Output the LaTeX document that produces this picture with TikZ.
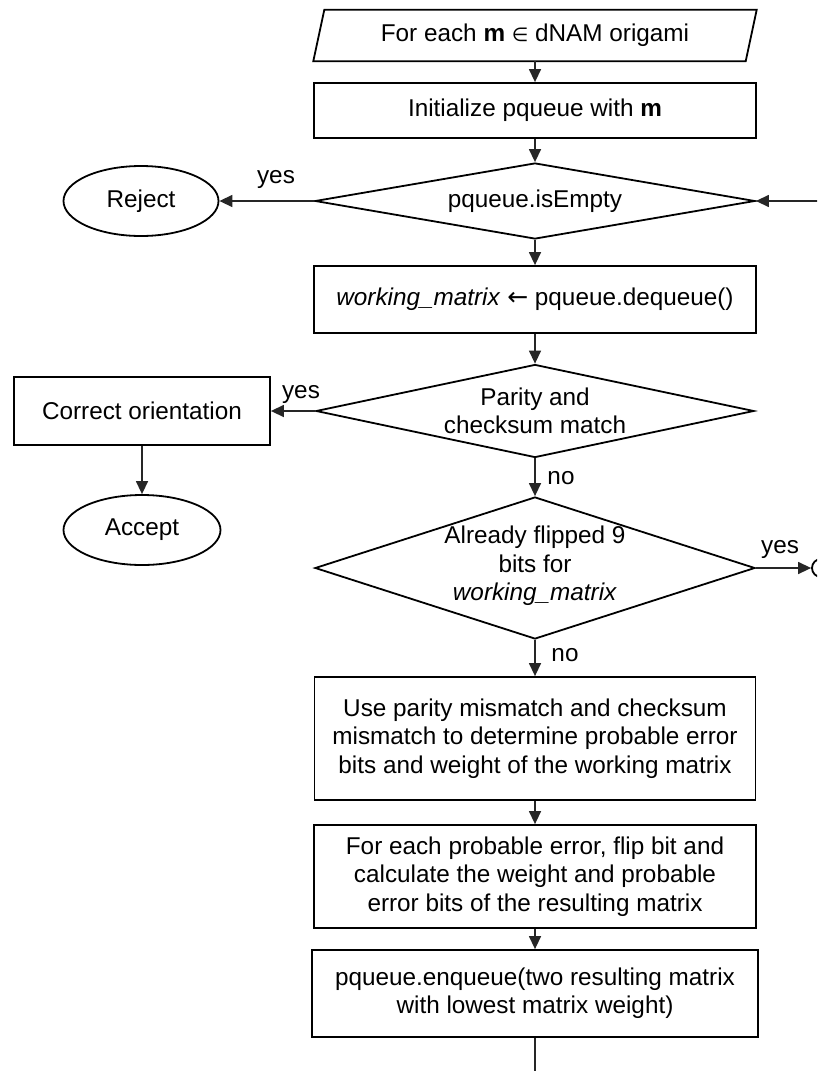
\documentclass[tikz,border=0pt]{standalone}
\usepackage{fontspec}
\setmainfont{Liberation Sans}
\newfontfamily\symfont{DejaVu Sans}
\usetikzlibrary{shapes.geometric,arrows.meta}
\tikzset{
  base/.style={draw=black, line width=1.8pt, inner sep=0pt, align=center,
    font=\fontsize{24.3}{28.3}\selectfont},
  procbox/.style={base, rectangle},
  termin/.style={base, ellipse},
  decision/.style={base, diamond},
  ghost/.style={rectangle, inner sep=0pt, align=center,
    font=\fontsize{24.3}{28.3}\selectfont},
  conn/.style={draw=black!85, line width=1.4pt, -{Triangle[length=13pt,width=12pt]}},
  plainline/.style={draw=black!85, line width=1.4pt},
  lbl/.style={inner sep=0pt, anchor=base, font=\fontsize{24.3}{28.3}\selectfont},
}
\begin{document}
\begin{tikzpicture}[x=1pt,y=-1pt]
\useasboundingbox (0,0) rectangle (817,1071);
\clip (0,0) rectangle (817,1071);
\fill[white] (0,0) rectangle (817,1071);

% start (parallelogram)
\node[ghost, minimum width=443pt, minimum height=51pt] (start) at (535,35.5)
  {For each \textbf{m} {\symfont\fontsize{19}{20}\selectfont ∈} dNAM origami};
\draw[line width=1.8pt, line join=miter]
  ([xshift=11pt]start.north west) -- (start.north east)
  -- ([xshift=-11pt]start.south east) -- (start.south west) -- cycle;

\node[procbox, minimum width=442pt, minimum height=55pt] (init) at (535,110.5)
  {Initialize pqueue with \textbf{m}};

\node[decision, minimum width=440pt, minimum height=76pt] (d1) at (535,201) {};
\node[ghost] (d1t) at (d1.center) {pqueue.isEmpty};

\node[termin, minimum width=155pt, minimum height=70pt] (reject) at (141,201) {Reject};

\node[procbox, minimum width=442pt, minimum height=67pt] (deq) at (535,299.5)
  {\textit{working\_matrix} {\symfont\fontsize{25}{26}\selectfont ←} pqueue.dequeue()};

\node[decision, minimum width=438pt, minimum height=93pt] (d2) at (535,411) {};
\node[ghost] (d2t) at (d2.center) {Parity and\\checksum match};

\node[procbox, minimum width=256pt, minimum height=68pt] (correct) at (142,411)
  {Correct orientation};

\node[termin, minimum width=157pt, minimum height=70pt] (accept) at (142,530) {Accept};

\node[decision, minimum width=440pt, minimum height=142pt] (d3) at (535,568) {};
\node[ghost] (d3t) at ([yshift=2pt]d3.center) {Already flipped 9\\bits for\\\textit{working\_matrix}};

\node[base, circle, minimum size=18pt] (offpage) at (821,568) {};

\node[procbox, minimum width=441pt, minimum height=123pt] (use) at (535,738.5)
  {Use parity mismatch and checksum\\mismatch to determine probable error\\bits and weight of the working matrix};

\node[procbox, minimum width=442pt, minimum height=103pt] (each) at (535,876.5)
  {For each probable error, flip bit and\\calculate the weight and probable\\error bits of the resulting matrix};

\node[procbox, minimum width=446pt, minimum height=87pt] (enq) at (535,993.5)
  {pqueue.enqueue(two resulting matrix\\with lowest matrix weight)};

\coordinate (loopin) at (830,201);
\coordinate (loopout) at (535,1085);

% connectors
\draw[conn] (start) -- (init);
\draw[conn] (init) -- (d1);
\draw[conn] (d1.west) -- (reject.east);
\draw[conn] (loopin) -- (d1.east);
\draw[conn] (d1.south) -- (deq.north);
\draw[conn] (deq) -- (d2);
\draw[conn] (d2.west) -- (correct.east);
\draw[conn] (correct) -- (accept);
\draw[conn] (d2.south) -- (d3.north);
\draw[conn] (d3.east) -- (offpage.west);
\draw[conn] (d3.south) -- (use.north);
\draw[conn] (use) -- (each);
\draw[conn] (each) -- (enq);
\draw[plainline] (enq.south) -- (loopout);

% labels
\node[lbl] (yes1) at (276,183) {yes};
\node[lbl] (yes2) at (301,398) {yes};
\node[lbl] (no1) at (561,484) {no};
\node[lbl] (yes3) at (780,553) {yes};
\node[lbl] (no2) at (565,661) {no};
\end{tikzpicture}
\end{document}
